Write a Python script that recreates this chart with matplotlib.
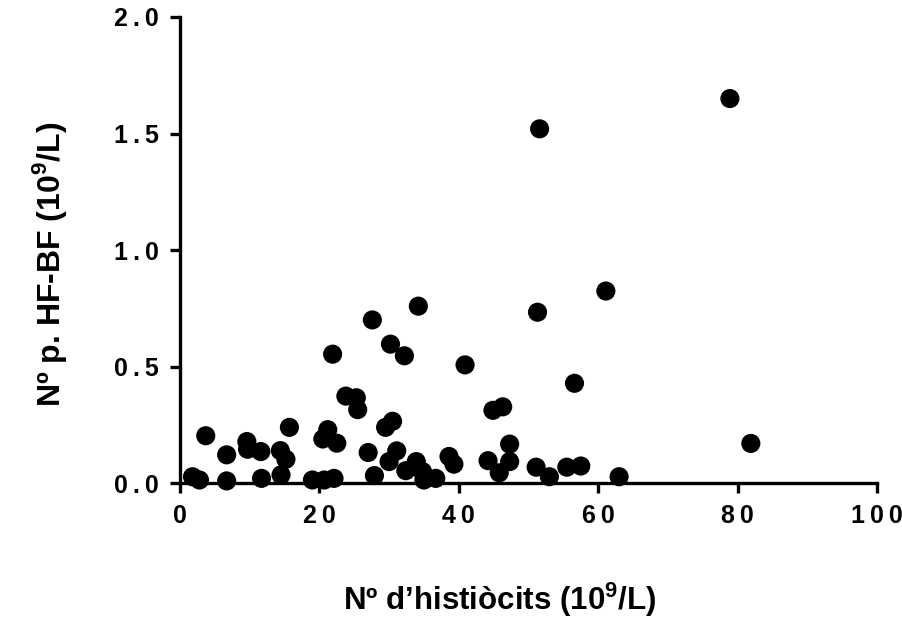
import matplotlib
matplotlib.use('Agg')
import matplotlib.pyplot as plt
from matplotlib.ticker import FuncFormatter

# Values
histiocits = [1.8, 2.8, 3.7, 6.7, 6.7, 9.6, 9.7, 11.6, 11.7, 14.4, 14.5, 15.2, 15.7,
              19.0, 20.5, 20.7, 21.2, 21.9, 22.1, 22.5, 23.8, 25.3, 25.5, 27.0, 27.6,
              27.9, 29.5, 30.0, 30.2, 30.5, 31.1, 32.2, 32.4, 33.9, 34.2, 34.8, 35.0,
              36.7, 38.6, 39.3, 40.9, 44.2, 44.9, 45.8, 46.3, 47.3, 47.3, 51.1, 51.3,
              51.6, 53.0, 55.5, 56.6, 57.5, 61.1, 63.0, 78.9, 81.9]
hf_bf = [0.027, 0.013, 0.203, 0.121, 0.009, 0.178, 0.145, 0.135, 0.020, 0.139, 0.035,
         0.102, 0.239, 0.013, 0.189, 0.013, 0.229, 0.553, 0.020, 0.171, 0.373, 0.366,
         0.315, 0.131, 0.700, 0.032, 0.239, 0.092, 0.596, 0.265, 0.138, 0.546, 0.053,
         0.092, 0.759, 0.049, 0.013, 0.020, 0.114, 0.081, 0.507, 0.096, 0.312, 0.044,
         0.327, 0.167, 0.092, 0.068, 0.733, 1.52, 0.027, 0.068, 0.428, 0.073, 0.824,
         0.027, 1.65, 0.170]

x_ticks = [0, 20, 40, 60, 80, 100]
y_ticks = [0.0, 0.5, 1.0, 1.5, 2.0]

plt.rcParams['font.family'] = ['Liberation Sans', 'DejaVu Sans']
plt.rcParams['font.weight'] = 'bold'
plt.rcParams['mathtext.fontset'] = 'custom'
plt.rcParams['mathtext.rm'] = 'Liberation Sans:bold'
plt.rcParams['mathtext.bf'] = 'Liberation Sans:bold'

fig = plt.figure(figsize=(9.03, 6.18), dpi=100)
ax = fig.add_axes([0.1993, 0.2184, 0.7719, 0.7541])

ax.scatter(histiocits, hf_bf, s=190, color='black', edgecolors='none',
           clip_on=False, zorder=3)

ax.set_xlim(0, 100)
ax.set_ylim(0, 2.0)
ax.set_xticks(x_ticks)
ax.set_yticks(y_ticks)


def spaced(fmt):
    return FuncFormatter(lambda v, pos: '\u2009'.join(fmt.format(v)))


ax.xaxis.set_major_formatter(spaced('{:.0f}'))
ax.yaxis.set_major_formatter(spaced('{:.1f}'))

for side in ['top', 'right']:
    ax.spines[side].set_visible(False)
for side in ['left', 'bottom']:
    ax.spines[side].set_linewidth(2.4)
    ax.spines[side].set_capstyle('projecting')

ax.tick_params(axis='both', direction='out', length=7, width=2.4,
               labelsize=18, pad=8)
for lab in ax.get_xticklabels() + ax.get_yticklabels():
    lab.set_fontweight('bold')

ax.set_xlabel('Nº d\u2019histiòcits (10$^{9}$/L)', fontsize=22.5, fontweight='bold')
ax.set_ylabel('Nº p. HF-BF (10$^{9}$/L)', fontsize=23, fontweight='bold')
ax.xaxis.label.set_va('center')
ax.yaxis.label.set_va('center')
ax.xaxis.set_label_coords(0.459, -0.251)
ax.yaxis.set_label_coords(-0.187, 0.47)

fig.savefig('out.png', dpi=100)
